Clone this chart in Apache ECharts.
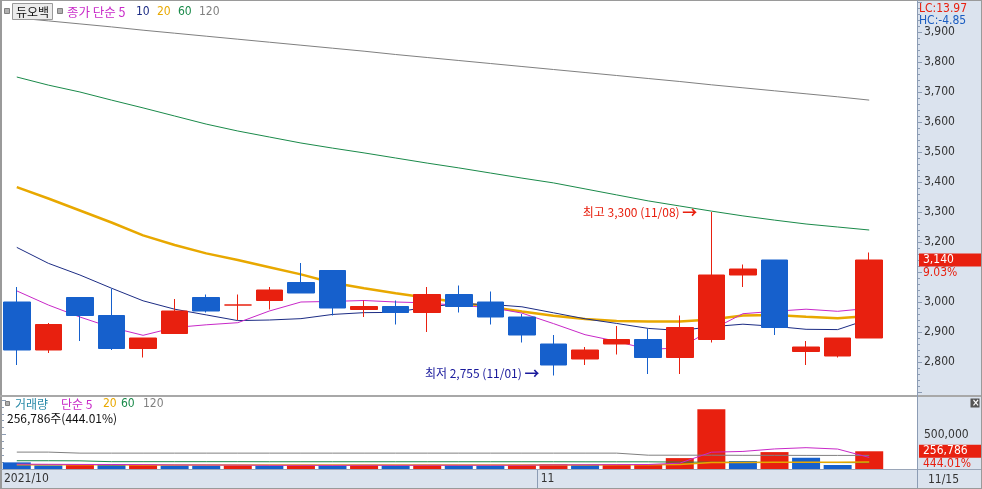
<!DOCTYPE html>
<html><head><meta charset="utf-8">
<script src="https://cdn.jsdelivr.net/npm/echarts@6/dist/echarts.min.js"></script>
<style>html,body{margin:0;padding:0;background:#fff;}#c{width:982px;height:489px;}</style>
</head><body><div id="c"></div>
<script>
// ---------------- data ----------------
const dates = ['10/06','10/07','10/08','10/12','10/13','10/14','10/15','10/18','10/19','10/20','10/21','10/22','10/25','10/26','10/27','10/28','10/29','11/01','11/02','11/03','11/04','11/05','11/08','11/09','11/10','11/11','11/12','11/15'];
const opens  = [3000,2840,3015,2955,2845,2895,3015,2990,3005,3065,3105,2975,2985,2965,3025,3000,2950,2860,2810,2860,2875,2815,2875,3090,3140,2835,2820,2880];
const closes = [2840,2925,2955,2845,2880,2970,2970,2990,3040,3030,2980,2985,2965,3025,2985,2950,2890,2790,2840,2875,2815,2915,3090,3110,2915,2850,2880,3140];
const lows   = [2790,2830,2870,2840,2815,2895,2965,2940,2975,3030,2955,2950,2925,2900,2965,2925,2865,2755,2790,2825,2760,2760,2865,3050,2890,2790,2815,2880];
const highs  = [3050,2930,3015,3045,2880,3010,3025,3025,3050,3130,3105,3005,3005,3050,3055,3035,2960,2890,2850,2920,2910,2955,3300,3125,3140,2870,2880,3165];
const ma5    = [3037,2990,2950,2915,2889,2915,2924,2931,2970,3000,3002,3005,3000,2997,2988,2982,2963,2928,2891,2869,2842,2847,2907,2961,2969,2976,2969,2979];
const ma10   = [3182,3129,3090,3046,3004,2976,2957,2938,2940,2944.5,2958.5,2964.5,2965.5,2983.5,2994,2992,2984,2964,2944,2928.5,2912,2905,2917.5,2926,2919,2909,2908,2943];
const ma20   = [3383,3345,3305,3265,3222,3190,3162,3140,3116,3092,3064,3046,3029,3014,2998,2983,2968,2954,2943,2936.5,2935,2935,2941.5,2955,2956.5,2950.5,2946,2953.5];
const ma60   = [3750,3723,3700,3673,3647,3620,3593,3570,3550,3530,3513,3497,3480,3463,3447,3430,3413,3397,3377,3357,3337,3320,3303,3287,3273,3260,3250,3240];
const ma120  = [3947,3937,3927,3917,3906,3896,3886,3876,3866,3856,3846,3836,3825,3815,3805,3795,3785,3775,3765,3755,3745,3735,3724,3714,3704,3694,3684,3673];
const volumes  = [96000,53000,68000,60000,63000,52000,50000,55000,50000,56000,52000,58000,52000,60000,55000,50000,60000,70000,60000,65000,70000,158000,865000,115000,245000,163000,57833,256786];
const volMa5   = [70000,68000,66000,65000,63000,59000,58000,57000,54000,54000,53000,55000,54000,55000,55000,55000,55000,59000,61000,63000,65000,84600,243600,254600,290600,309000,289000,167600];
const volMa20  = [60000,60000,60000,60000,59000,59000,59000,58000,58000,58000,58000,58000,58000,58000,58000,58000,58000,58000,59000,60000,60000,64000,95000,96000,98000,99000,99000,100000];
const volMa60  = [120000,120000,118000,106000,106000,106000,106000,106000,105000,105000,105000,105000,105000,105000,105000,105000,105000,105000,104000,104000,104000,100000,98000,96000,95000,94000,93000,92000];
const volMa120 = [245000,245000,230000,230000,230000,230000,230000,230000,230000,230000,230000,230000,230000,230000,230000,230000,230000,230000,230000,230000,200000,200000,200000,198000,198000,197000,197000,197000];
const priceTickStep = 100;
const volTickStep = 500000;
const dateTickPos = [0, 17];
const dateTickText = ['2021/10', '11'];
const stockName = '듀오백';

// ---------------- style ----------------
const RED = '#e8200f', BLUE = '#1660cc';
const C5 = '#c828c8', C10 = '#1c2c84', C20 = '#e8a800', C60 = '#1a8a4a', C120 = '#808080';
const FONT = "'Liberation Sans Narrow','DejaVu Sans Condensed','Liberation Sans','Noto Sans CJK KR',sans-serif";
const KFONT = "'Noto Sans CJK KR',sans-serif";
const fmt = v => Math.round(v).toLocaleString('en-US');

const chart = echarts.init(document.getElementById('c'), null, {renderer: 'canvas'});

let hiIdx = 0, loIdx = 0;
highs.forEach((h, i) => { if (h > highs[hiIdx]) hiIdx = i; });
lows.forEach((l, i) => { if (l < lows[loIdx]) loIdx = i; });

const volData = volumes.map((v, i) => ({
  value: v,
  itemStyle: {color: (i > 0 && v > volumes[i - 1]) ? RED : BLUE}
}));

const lineS = (name, data, color, w, xi, yi, z) => ({
  name, type: 'line', data, xAxisIndex: xi, yAxisIndex: yi, symbol: 'none', z: z || 2,
  lineStyle: {color, width: w}, animation: false, silent: true
});

const yAxisBase = {
  position: 'right', offset: 32,
  axisLine: {show: true, lineStyle: {color: '#8c9cb4', width: 1}},
  axisTick: {show: true, inside: false, length: 5, lineStyle: {color: '#8c9cb4'}},
  minorTick: {show: true, splitNumber: 5, length: 3, lineStyle: {color: '#8c9cb4'}},
  splitLine: {show: false},
  axisLabel: {color: '#333', fontFamily: FONT, fontSize: 12, margin: 7, showMinLabel: false, showMaxLabel: false, formatter: v => fmt(v)}
};

chart.setOption({
  animation: false,
  backgroundColor: '#fff',
  grid: [
    {left: 1, top: 2, width: 884, height: 390},
    {left: 1, top: 400, width: 884, height: 69}
  ],
  xAxis: [
    {type: 'category', gridIndex: 0, data: dates, boundaryGap: true, show: false},
    {type: 'category', gridIndex: 1, data: dates, boundaryGap: true, show: false},
    {type: 'value', gridIndex: 1, min: 0, max: dates.length, position: 'bottom',
      axisLine: {show: false}, splitLine: {show: false},
      axisTick: {show: true, customValues: dateTickPos.slice(1), length: 19, lineStyle: {color: '#8c9cb4'}},
      axisLabel: {show: true, customValues: dateTickPos, align: 'left', margin: 4, padding: [0, 0, 0, 3],
        color: '#333', fontFamily: FONT, fontSize: 12,
        formatter: v => { const k = dateTickPos.indexOf(Math.round(v)); return k >= 0 ? dateTickText[k] : ''; }}}
  ],
  yAxis: [
    Object.assign({}, yAxisBase, {type: 'value', gridIndex: 0, min: 2700, max: 4000, interval: priceTickStep}),
    Object.assign({}, yAxisBase, {type: 'value', gridIndex: 1, min: 0, max: 1000000, interval: volTickStep})
  ],
  series: [
    lineS('120', ma120, C120, 1, 0, 0),
    lineS('60', ma60, C60, 1, 0, 0),
    lineS('20', ma20, C20, 2.5, 0, 0),
    lineS('10', ma10, C10, 1, 0, 0),
    lineS('5', ma5, C5, 1, 0, 0),
    {
      type: 'candlestick', xAxisIndex: 0, yAxisIndex: 0, z: 5, barWidth: 27,
      data: opens.map((o, i) => [o, closes[i], lows[i], highs[i]]),
      itemStyle: {color: RED, color0: BLUE, borderColor: RED, borderColor0: BLUE, borderWidth: 1},
      markPoint: {
        symbol: 'circle', symbolSize: 0, animation: false,
        data: [
          {coord: [hiIdx, highs[hiIdx]], label: {show: true, position: 'left', distance: 14, color: RED,
            fontFamily: KFONT, fontSize: 12,
            formatter: '최고 ' + fmt(highs[hiIdx]) + ' (' + dates[hiIdx] + ') {a|→}',
            rich: {a: {fontSize: 15, fontWeight: 'bold', color: RED, fontFamily: KFONT}}}},
          {coord: [loIdx, lows[loIdx]], label: {show: true, position: 'left', distance: 14, color: '#1a1a9c',
            fontFamily: KFONT, fontSize: 12, offset: [0, -2],
            formatter: '최저 ' + fmt(lows[loIdx]) + ' (' + dates[loIdx] + ') {a|→}',
            rich: {a: {fontSize: 15, fontWeight: 'bold', color: '#1a1a9c', fontFamily: KFONT}}}}
        ]
      }
    },
    {type: 'bar', xAxisIndex: 1, yAxisIndex: 1, data: volData, barWidth: 28, z: 3, animation: false},
    lineS('v120', volMa120, C120, 1, 1, 1, 4),
    lineS('v60', volMa60, C60, 1, 1, 1, 4),
    lineS('v20', volMa20, C20, 1.5, 1, 1, 4),
    lineS('v5', volMa5, C5, 1, 1, 1, 4)
  ]
});

// ---------------- overlays ----------------
const n = closes.length;
const last = closes[n - 1], prev = closes[n - 2];
const pct = ((last / prev - 1) * 100).toFixed(2);
const lc = ((last / lows[loIdx] - 1) * 100).toFixed(2);
const hc = ((last / highs[hiIdx] - 1) * 100).toFixed(2);
const lastVol = volumes[n - 1], prevVol = volumes[n - 2];
const vpct = (lastVol / prevVol * 100).toFixed(2);
const yLast = chart.convertToPixel({yAxisIndex: 0}, last);
const yVol = chart.convertToPixel({yAxisIndex: 1}, lastVol);

const T = (text, x, y, fill, opt) => Object.assign({type: 'text', z: 70, silent: true,
  style: Object.assign({text, x, y, fill, font: '12px ' + FONT, verticalAlign: 'middle', align: 'left'}, (opt || {}).style || {})}, opt && opt.z ? {z: opt.z} : {});
const R = (x, y, w, h, fill, z, stroke) => ({type: 'rect', z: z || 0, silent: true, shape: {x, y, width: w, height: h},
  style: {fill, stroke: stroke || null, lineWidth: 1}});
const L = (x1, y1, x2, y2, c, w, z) => ({type: 'line', z: z || 40, silent: true, shape: {x1, y1, x2, y2}, style: {stroke: c, lineWidth: w || 1}});

const AXBG = '#dbe3ee';
const gr = [
  R(917, 0, 65, 489, AXBG, -10),
  R(0, 470, 982, 19, AXBG, -10),
  L(0, 0.5, 982, 0.5, '#9a9a9a', 1),
  L(1, 0, 1, 489, '#9a9a9a', 2),
  L(0, 396, 982, 396, '#a8a8a8', 2),
  L(0, 469.5, 982, 469.5, '#9aa6b8', 1),
  L(917.5, 0, 917.5, 489, '#8c9cb4', 1),
  L(981.5, 0, 981.5, 489, '#9a9a9a', 1),
  L(0, 488.5, 982, 488.5, '#9a9a9a', 1),
  // main legend
  R(4.5, 8.5, 5, 5, '#b0b0b0', 30, '#808080'),
  R(12.5, 3.5, 40, 16, '#ececec', 30, '#9a9a9a'),
  T(stockName, 16, 12, '#111', {style: {font: '12px ' + KFONT}}),
  R(57.5, 8.5, 5, 5, '#b0b0b0', 30, '#808080'),
  T('종가 단순 5', 67, 12, C5, {style: {font: '12.5px ' + KFONT}}),
  T('10', 136, 12, C10, {style: {font: '12px ' + FONT}}),
  T('20', 157, 12, C20, {style: {font: '12px ' + FONT}}),
  T('60', 178, 12, C60, {style: {font: '12px ' + FONT}}),
  T('120', 199, 12, C120, {style: {font: '12px ' + FONT}}),
  // volume legend
  R(5.5, 401.5, 4, 4, '#b0b0b0', 30, '#808080'),
  T('거래량', 15, 404, '#2a8aa8', {style: {font: '12px ' + KFONT}}),
  T('단순 5', 61, 404, C5, {style: {font: '12px ' + KFONT}}),
  T('20', 103, 404, C20),
  T('60', 121, 404, C60),
  T('120', 143, 404, C120),
  T(fmt(lastVol) + '주(' + vpct + '%)', 7, 418, '#111', {style: {font: '12px ' + KFONT}}),
  // right axis info
  T('LC:' + lc, 919, 9, RED),
  T('HC:' + hc, 919, 21, '#1a5cc0'),
  R(923, yLast + 6.5, 58, 13, AXBG, 59),
  R(919, yLast - 6.5, 62, 13, RED, 60),
  T(fmt(last), 923, yLast, '#fff', {z: 61}),
  T(pct + '%', 923, yLast + 12.5, RED, {z: 62}),
  R(919, yVol - 6.5, 62, 13, RED, 60),
  T(fmt(lastVol), 923, yVol, '#fff', {z: 61}),
  T(vpct + '%', 923, yVol + 12.5, RED, {z: 62}),
  R(970.5, 398.5, 9, 9, '#555', 60),
  T('×', 972, 403, '#fff', {z: 61, style: {font: 'bold 10px ' + FONT}}),
  T(dates[n - 1], 928, 480, '#333')
];
chart.setOption({graphic: gr});
</script></body></html>
